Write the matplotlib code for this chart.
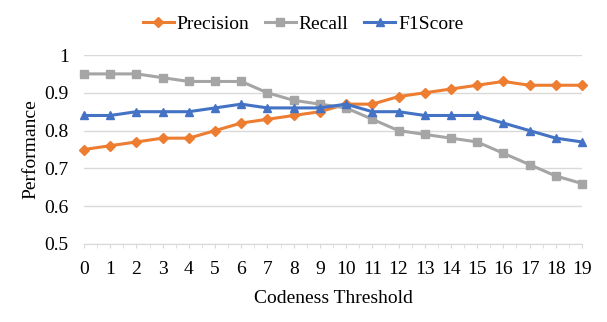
import numpy as np
import matplotlib
matplotlib.use("Agg")
import matplotlib.pyplot as plt

thresholds = list(range(20))
precision = [0.75, 0.76, 0.77, 0.78, 0.78, 0.80, 0.82, 0.83, 0.84, 0.85,
             0.87, 0.87, 0.89, 0.90, 0.91, 0.92, 0.93, 0.92, 0.92, 0.92]
recall = [0.95, 0.95, 0.95, 0.94, 0.93, 0.93, 0.93, 0.90, 0.88, 0.87,
          0.86, 0.83, 0.80, 0.79, 0.78, 0.77, 0.74, 0.71, 0.68, 0.66]
f1score = [0.84, 0.84, 0.85, 0.85, 0.85, 0.86, 0.87, 0.86, 0.86, 0.86,
           0.87, 0.85, 0.85, 0.84, 0.84, 0.84, 0.82, 0.80, 0.78, 0.77]

plt.rcParams['font.family'] = ['Liberation Serif', 'DejaVu Serif']

fig = plt.figure(figsize=(6.07, 3.22), dpi=100)
ax = fig.add_axes([84 / 607, 78 / 322, 498 / 607, 189 / 322])

ax.plot(thresholds, precision, color="#ED7D31", lw=2.2, marker="D", ms=5, label="Precision", clip_on=False)
ax.plot(thresholds, recall, color="#A5A5A5", lw=2.2, marker="s", ms=6, label="Recall", clip_on=False)
ax.plot(thresholds, f1score, color="#4472C4", lw=2.2, marker="^", ms=6, label="F1Score", clip_on=False)

ax.set_xlim(0, 19)
ax.set_ylim(0.5, 1.0)
ax.set_yticks([0.5, 0.6, 0.7, 0.8, 0.9, 1.0])
ax.set_yticklabels(["0.5", "0.6", "0.7", "0.8", "0.9", "1"])
ax.set_xticks(thresholds)
ax.set_xticks(np.arange(0.5, 19, 1), minor=True)
ax.grid(axis="y", color="#D9D9D9", lw=1)
ax.set_axisbelow(True)
for s in ["top", "right", "left"]:
    ax.spines[s].set_visible(False)
ax.spines["bottom"].set_color("#D9D9D9")
ax.tick_params(axis="y", length=0, labelsize=14, pad=11)
ax.tick_params(axis="x", which="both", length=3, color="#D9D9D9", labelsize=14, pad=9)

ax.set_xlabel("Codeness Threshold", fontsize=14, labelpad=9)
ax.set_ylabel("Performance", fontsize=14, labelpad=4)

fig.legend(loc="center", bbox_to_anchor=(303 / 607, 1 - 24 / 322), ncol=3, frameon=False,
           fontsize=14, handlelength=1.6, columnspacing=0.8, handletextpad=0.15)

fig.savefig("out.png", dpi=100)
